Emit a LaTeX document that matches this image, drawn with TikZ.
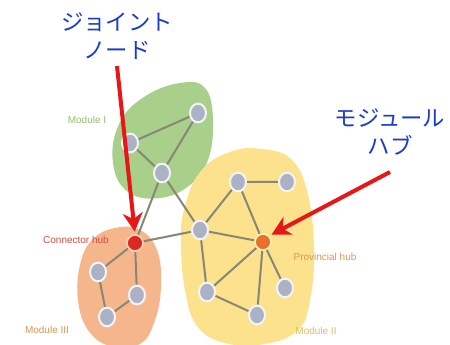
\documentclass[tikz,border=0pt]{standalone}
\usepackage{fontspec}
\setmainfont{Liberation Sans}
\newfontfamily\jpfont{Noto Sans CJK JP}
\usetikzlibrary{arrows.meta,shapes.geometric}
\definecolor{jblue}{RGB}{25,60,205}
\definecolor{arrred}{RGB}{232,22,22}
\definecolor{blobgreen}{RGB}{168,208,138}
\definecolor{blobyellow}{RGB}{252,226,140}
\definecolor{bloborange}{RGB}{246,182,140}
\definecolor{nodegray}{RGB}{172,178,198}
\definecolor{edgegray}{RGB}{135,135,120}
\definecolor{hubred}{RGB}{220,40,35}
\definecolor{hubor}{RGB}{232,112,40}
\definecolor{txtgreen}{RGB}{150,190,110}
\definecolor{txtred}{RGB}{205,80,70}
\definecolor{txtor}{RGB}{222,150,80}
\definecolor{txtyel}{RGB}{222,192,90}
\definecolor{txttan}{RGB}{212,152,85}
\pgfdeclarelayer{bg}
\pgfdeclarelayer{canvas}
\pgfsetlayers{canvas,bg,main}
\tikzset{
  gnode/.style={ellipse, minimum width=12, minimum height=14, inner sep=0, fill=nodegray, draw=white!85!nodegray, line width=1.5},
  rhub/.style={circle, minimum size=12, inner sep=0, fill=hubred, draw=bloborange!60!white, line width=1.2},
  ohub/.style={circle, minimum size=12, inner sep=0, fill=hubor, draw=blobyellow!60!white, line width=1.2},
  edge/.style={draw=edgegray, line width=1.5},
  modlabel/.style={font=\fontsize{7.5}{9}\selectfont, inner sep=0},
  jplabel/.style={font=\jpfont\fontsize{16.8}{21}\selectfont, text=jblue, align=center, inner sep=0},
  redarrow/.style={draw=arrred, line width=3, -{Stealth[length=14, width=15]}}
}
\begin{document}
\begin{tikzpicture}[x=0.75pt,y=-0.75pt]
\useasboundingbox (0,0) rectangle (450,345);
\begin{pgfonlayer}{canvas}
\fill[white] (0,0) rectangle (450,345);
% blobs
\fill[blobgreen] plot[smooth cycle, tension=0.7] coordinates {(113,163) (119,124) (144,97) (180,83) (205,88) (213,120) (208,160) (190,185) (160,198) (128,192)};
\fill[blobyellow] plot[smooth cycle, tension=0.7] coordinates {(184,210) (200,172) (230,152) (262,149) (292,160) (308,195) (314,250) (310,300) (298,330) (265,344) (225,343) (197,326) (185,290) (181,245)};
\fill[bloborange] plot[smooth cycle, tension=0.7] coordinates {(80,265) (92,240) (115,228) (140,230) (157,250) (161,285) (155,320) (140,344) (110,346) (88,330) (78,300)};
\end{pgfonlayer}

% nodes of Module I
\node[gnode] (g1) at (198,113) {};
\node[gnode] (g2) at (130,143) {};
\node[gnode] (g3) at (162,173) {};
% nodes of Module II
\node[gnode] (y1) at (238,182) {};
\node[gnode] (y2) at (287,182) {};
\node[gnode] (y3) at (200,230) {};
\node[ohub]  (ph) at (263,242) {};
\node[gnode] (y4) at (207,292) {};
\node[gnode] (y5) at (257,315) {};
\node[gnode] (y6) at (285,288) {};
% nodes of Module III
\node[rhub]  (ch) at (135,243) {};
\node[gnode] (o1) at (98,272) {};
\node[gnode] (o2) at (137,295) {};
\node[gnode] (o3) at (107,317) {};

\begin{pgfonlayer}{bg}
\path[edge] (g2) -- (g1) (g1) -- (g3) (g2) -- (g3);
\path[edge] (g3) -- (y3) (g3) -- (ch) (ch) -- (y3);
\path[edge] (y1) -- (y2) (y1) -- (y3) (y1) -- (ph) (y3) -- (ph)
  (y3) -- (y4) (y4) -- (ph) (y4) -- (y5) (y5) -- (ph) (ph) -- (y6);
\path[edge] (ch) -- (o1) (ch) -- (o2) (o1) -- (o3) (o3) -- (o2);
\end{pgfonlayer}

% module labels
\node[modlabel, text=txtgreen] (lm1) at (87,120) {Module I};
\node[modlabel, text=txtred] (lch) at (76,240) {Connector hub};
\node[modlabel, text=txtor] (lph) at (325,257) {Provincial hub};
\node[modlabel, text=txtyel] (lm2) at (316,331) {Module II};
\node[modlabel, text=txttan] (lm3) at (47,330) {Module III};

% Japanese callouts
\node[jplabel] (jn) at (117,36) {ジョイント\\ノード};
\node[jplabel] (mh) at (390,132) {モジュール\\ハブ};

\coordinate (a1) at (117,66);
\coordinate (a2) at (390,172);
\draw[redarrow, shorten >=2] (a1) -- (ch.north);
\draw[redarrow, shorten >=2] (a2) -- (ph.north east);
\end{tikzpicture}
\end{document}
